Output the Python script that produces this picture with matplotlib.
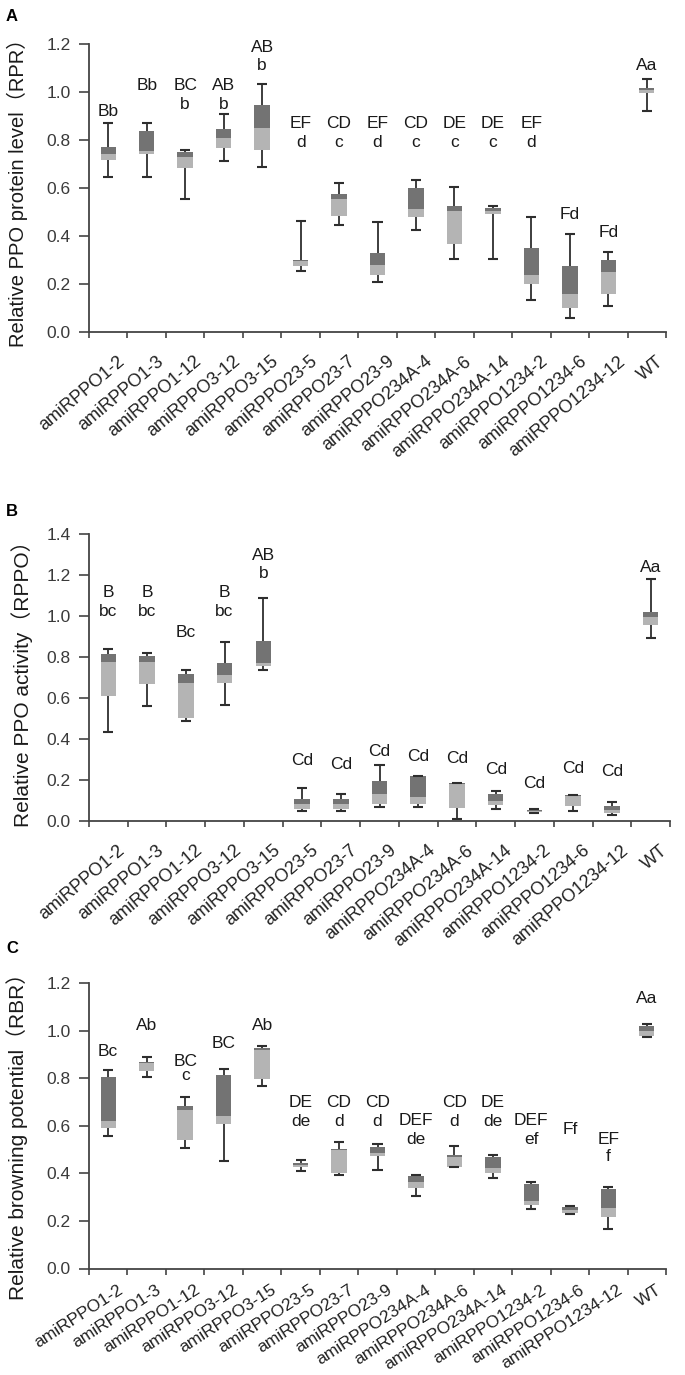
import numpy as np
import matplotlib
matplotlib.use("Agg")
import matplotlib.pyplot as plt
from matplotlib.transforms import ScaledTranslation

plt.rcParams['font.family'] = ['Liberation Sans', 'Noto Sans CJK SC', 'DejaVu Sans']

categories = ["amiRPPO1-2", "amiRPPO1-3", "amiRPPO1-12", "amiRPPO3-12", "amiRPPO3-15",
              "amiRPPO23-5", "amiRPPO23-7", "amiRPPO23-9", "amiRPPO234A-4", "amiRPPO234A-6",
              "amiRPPO234A-14", "amiRPPO1234-2", "amiRPPO1234-6", "amiRPPO1234-12", "WT"]

# ---- Panel A: relative PPO protein level
low_A = [0.645, 0.645, 0.554, 0.714, 0.686, 0.254, 0.447, 0.208, 0.424, 0.304, 0.304, 0.135, 0.057, 0.107, 0.922]
q1_A = [0.717, 0.740, 0.682, 0.768, 0.758, 0.276, 0.485, 0.236, 0.479, 0.367, 0.490, 0.201, 0.101, 0.157, 0.996]
med_A = [0.740, 0.756, 0.728, 0.807, 0.851, 0.294, 0.556, 0.281, 0.511, 0.506, 0.505, 0.239, 0.160, 0.251, 1.007]
q3_A = [0.772, 0.839, 0.749, 0.845, 0.946, 0.301, 0.574, 0.329, 0.599, 0.526, 0.515, 0.350, 0.276, 0.300, 1.018]
high_A = [0.872, 0.872, 0.758, 0.907, 1.035, 0.462, 0.622, 0.457, 0.633, 0.606, 0.526, 0.479, 0.407, 0.333, 1.056]
upper_A = ["Bb", "Bb", "BC", "AB", "AB", "EF", "CD", "EF", "CD", "DE", "DE", "EF", "Fd", "Fd", "Aa"]
upper_y_A = [0.899, 1.007, 1.007, 1.007, 1.167, 0.85, 0.85, 0.85, 0.85, 0.85, 0.85, 0.85, 0.472, 0.396, 1.09]
lower_A = ["", "", "b", "b", "b", "d", "c", "d", "c", "c", "c", "d", "", "", ""]
lower_y_A = [None, None, 0.931, 0.931, 1.09, 0.772, 0.772, 0.772, 0.772, 0.772, 0.772, 0.772, None, None, None]

# ---- Panel B: relative PPO activity
low_B = [0.433, 0.560, 0.487, 0.568, 0.739, 0.049, 0.047, 0.068, 0.068, 0.011, 0.060, 0.039, 0.047, 0.028, 0.894]
q1_B = [0.610, 0.666, 0.503, 0.674, 0.755, 0.060, 0.060, 0.085, 0.085, 0.065, 0.080, 0.044, 0.072, 0.041, 0.957]
med_B = [0.776, 0.776, 0.671, 0.710, 0.772, 0.081, 0.085, 0.130, 0.117, 0.180, 0.098, 0.050, 0.120, 0.055, 0.993]
q3_B = [0.814, 0.807, 0.715, 0.773, 0.879, 0.106, 0.106, 0.195, 0.220, 0.186, 0.133, 0.055, 0.125, 0.075, 1.021]
high_B = [0.840, 0.819, 0.739, 0.873, 1.086, 0.161, 0.133, 0.272, 0.220, 0.186, 0.147, 0.060, 0.125, 0.093, 1.179]
upper_B = ["B", "B", "Bc", "B", "AB", "Cd", "Cd", "Cd", "Cd", "Cd", "Cd", "Cd", "Cd", "Cd", "Aa"]
upper_y_B = [1.094, 1.094, 0.899, 1.094, 1.273, 0.272, 0.256, 0.317, 0.293, 0.285, 0.231, 0.161, 0.236, 0.220, 1.213]
lower_B = ["bc", "bc", "", "bc", "b", "", "", "", "", "", "", "", "", "", ""]
lower_y_B = [1.001, 1.001, None, 1.001, 1.183, None, None, None, None, None, None, None, None, None, None]

# ---- Panel C: relative browning potential
low_C = [0.555, 0.804, 0.508, 0.452, 0.768, 0.411, 0.393, 0.414, 0.306, 0.428, 0.382, 0.250, 0.228, 0.165, 0.971]
q1_C = [0.592, 0.832, 0.541, 0.608, 0.796, 0.426, 0.403, 0.473, 0.340, 0.428, 0.403, 0.267, 0.235, 0.215, 0.978]
med_C = [0.618, 0.862, 0.667, 0.642, 0.918, 0.435, 0.497, 0.485, 0.365, 0.470, 0.421, 0.284, 0.246, 0.256, 0.999]
q3_C = [0.807, 0.870, 0.681, 0.813, 0.926, 0.445, 0.503, 0.510, 0.389, 0.478, 0.470, 0.355, 0.258, 0.336, 1.020]
high_C = [0.835, 0.891, 0.720, 0.839, 0.936, 0.456, 0.531, 0.525, 0.393, 0.515, 0.475, 0.365, 0.263, 0.342, 1.026]
upper_C = ["Bc", "Ab", "BC", "BC", "Ab", "DE", "CD", "CD", "DEF", "CD", "DE", "DEF", "Ff", "EF", "Aa"]
upper_y_C = [0.894, 1.004, 0.850, 0.926, 1.004, 0.68, 0.68, 0.68, 0.605, 0.68, 0.68, 0.605, 0.566, 0.524, 1.116]
lower_C = ["", "", "c", "", "", "de", "d", "d", "de", "d", "de", "ef", "", "f", ""]
lower_y_C = [None, None, 0.793, None, None, 0.60, 0.60, 0.60, 0.525, 0.60, 0.60, 0.525, None, 0.45, None]

DARK = '#737373'
LIGHT = '#b4b4b4'
LINE = '#2e2e2e'
AXC = '#444444'

fig = plt.figure(figsize=(6.85, 13.75), dpi=100)
W, H = 685, 1375


def make_axes(left, right, top, bottom):
    return fig.add_axes([left / W, 1 - bottom / H, (right - left) / W, (bottom - top) / H])


def draw_panel(ax, low, q1, med, q3, high, upper, upper_y, lower, lower_y, ymax, ylabel, lab_xy,
               lab_size, panel, panel_xy, xl_size, xl_rot, xl_pad, xl_dx):
    n = len(categories)
    x = np.arange(1, n + 1)
    ax.vlines(x, low, high, color=LINE, lw=1.3, zorder=2)
    ax.hlines(high, x - 0.13, x + 0.13, color=LINE, lw=1.5, zorder=4)
    ax.hlines(low, x - 0.13, x + 0.13, color=LINE, lw=1.5, zorder=4)
    ax.bar(x, np.array(med) - np.array(q1), bottom=q1, width=0.4, color=LIGHT, zorder=3)
    ax.bar(x, np.array(q3) - np.array(med), bottom=med, width=0.4, color=DARK, zorder=3)
    for xi, t, y in zip(x, upper, upper_y):
        if t:
            ax.text(xi, y, t, ha='center', va='baseline', fontsize=12.5, color='#1a1a1a')
    for xi, t, y in zip(x, lower, lower_y):
        if t:
            ax.text(xi, y, t, ha='center', va='baseline', fontsize=12.5, color='#1a1a1a')
    ax.set_xlim(0.5, n + 0.5)
    ax.set_ylim(0, ymax)
    ax.set_yticks(np.arange(0, ymax + 1e-9, 0.2))
    ax.set_yticklabels([f"{v:.1f}" for v in np.arange(0, ymax + 1e-9, 0.2)])
    ax.set_xticks(np.arange(0.5, n + 1, 1.0))
    ax.set_xticklabels([])
    ax.set_xticks(x, minor=True)
    ax.set_xticklabels(categories, minor=True, rotation=xl_rot, ha='right', rotation_mode='anchor',
                       fontsize=xl_size, color='#222222')
    ax.tick_params(axis='x', which='major', direction='out', length=4, width=1.2, color=AXC)
    ax.tick_params(axis='x', which='minor', length=0, pad=xl_pad)
    ax.tick_params(axis='y', direction='out', length=7, width=1.2, color=AXC,
                   labelsize=12.5, labelcolor='#3a3a3a', pad=6)
    for lbl in ax.get_xticklabels(minor=True):
        lbl.set_transform(lbl.get_transform() + ScaledTranslation(xl_dx, 0, fig.dpi_scale_trans))
    for s in ['top', 'right']:
        ax.spines[s].set_visible(False)
    for s in ['left', 'bottom']:
        ax.spines[s].set_color(AXC)
        ax.spines[s].set_linewidth(1.3)
    fig.text(lab_xy[0] / W, 1 - lab_xy[1] / H, ylabel, rotation=90, ha='center', va='center',
             fontsize=lab_size, color='#1a1a1a')
    fig.text(panel_xy[0] / W, 1 - panel_xy[1] / H, panel, fontsize=12, fontweight='bold',
             ha='left', va='top')


axA = make_axes(89, 666, 44, 332)
draw_panel(axA, low_A, q1_A, med_A, q3_A, high_A, upper_A, upper_y_A, lower_A, lower_y_A, 1.2,
           "Relative PPO protein level（RPR）", (17, 188), 14.5, "A", (6, 9), 13, 40, 15, 0.09)
axB = make_axes(89, 670, 534, 821)
draw_panel(axB, low_B, q1_B, med_B, q3_B, high_B, upper_B, upper_y_B, lower_B, lower_y_B, 1.4,
           "Relative PPO activity（RPPO）", (22, 679), 15, "B", (6, 504), 13, 40, 15, 0.09)
axC = make_axes(89, 666, 983, 1268.5)
draw_panel(axC, low_C, q1_C, med_C, q3_C, high_C, upper_C, upper_y_C, lower_C, lower_y_C, 1.2,
           "Relative browning potential（RBR）", (17, 1131), 15, "C", (6, 941), 12.5, 33, 10, 0.09)

fig.savefig("out.png", dpi=100)
